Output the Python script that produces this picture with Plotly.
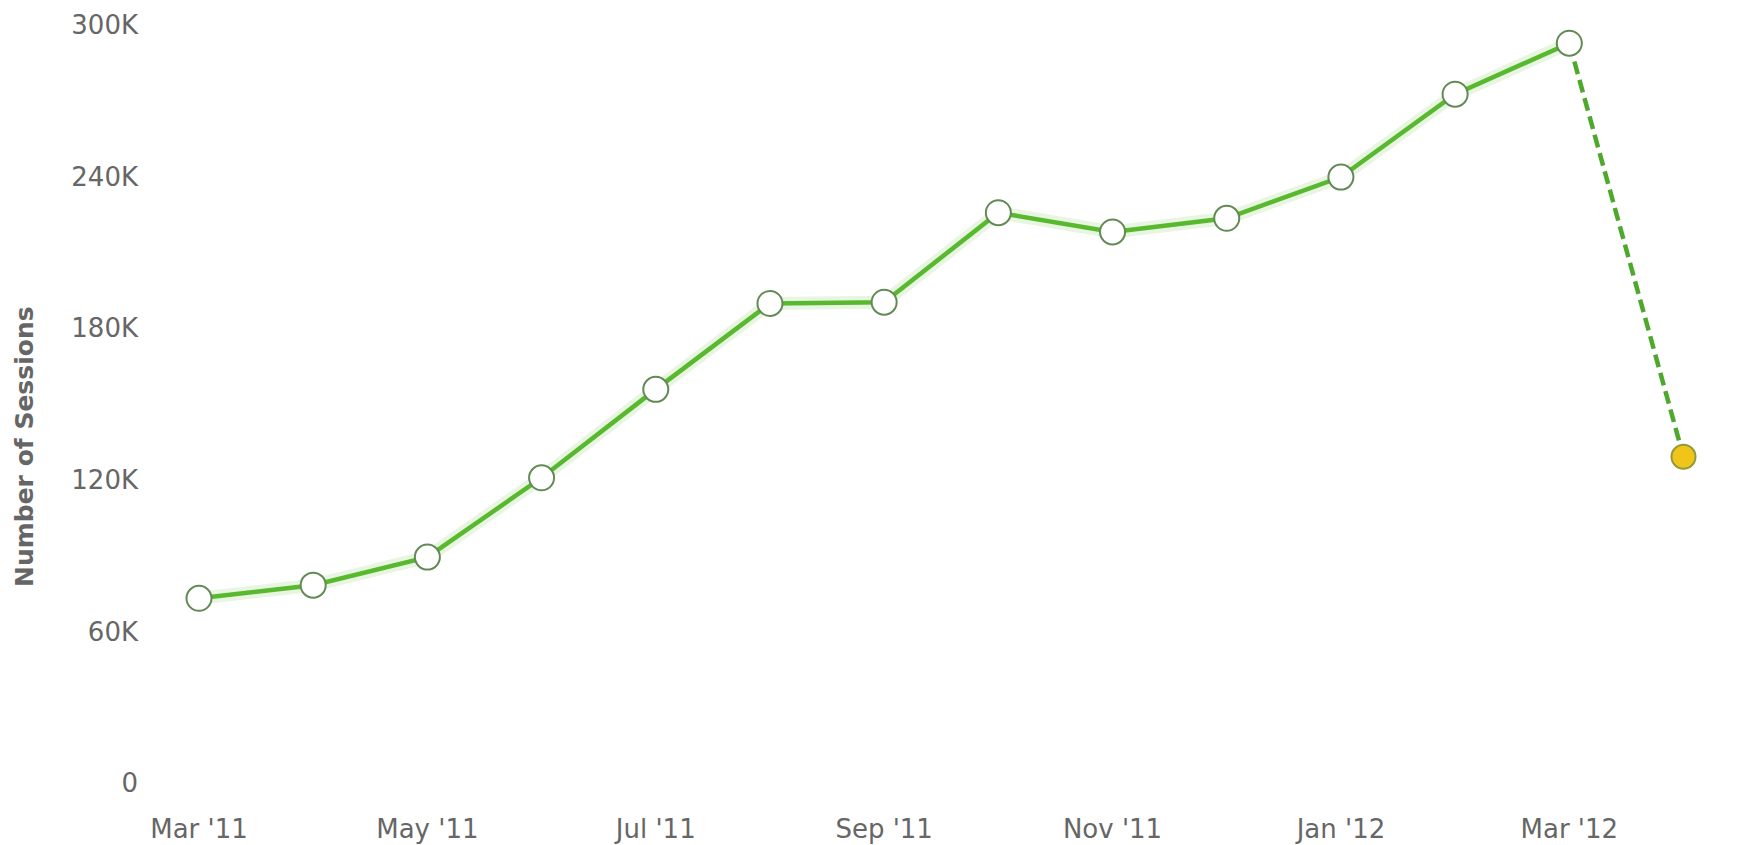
import plotly.graph_objects as go

months = ["Mar '11", "Apr '11", "May '11", "Jun '11", "Jul '11", "Aug '11", "Sep '11",
          "Oct '11", "Nov '11", "Dec '11", "Jan '12", "Feb '12", "Mar '12", "Apr '12"]
sessions = [73100, 78300, 89400, 120800, 155800, 189800, 190300,
            225700, 218100, 223500, 239800, 272600, 292800, 129100]
tick_months = ["Mar '11", "May '11", "Jul '11", "Sep '11", "Nov '11", "Jan '12", "Mar '12"]
y_ticks = [0, 60000, 120000, 180000, 240000, 300000]
y_tick_labels = ["0", "60K", "120K", "180K", "240K", "300K"]

idx = list(range(len(months)))
solid_x, solid_y = idx[:-1], sessions[:-1]
dash_x, dash_y = idx[-2:], sessions[-2:]
tick_idx = [months.index(m) for m in tick_months]

green = "#58b92f"
fig = go.Figure()
# soft shadow under the line
fig.add_trace(go.Scatter(x=solid_x, y=solid_y, mode="lines",
                         line=dict(color="rgba(120,200,90,0.18)", width=13),
                         hoverinfo="skip", showlegend=False))
fig.add_trace(go.Scatter(x=dash_x, y=dash_y, mode="lines",
                         line=dict(color="#4ea82c", width=4.5, dash="13px,6px"),
                         hoverinfo="skip", showlegend=False))
fig.add_trace(go.Scatter(x=solid_x, y=solid_y, mode="lines+markers",
                         line=dict(color=green, width=4.5),
                         marker=dict(size=25, color="white",
                                     line=dict(color="#638a55", width=2)),
                         showlegend=False, cliponaxis=False))
fig.add_trace(go.Scatter(x=[idx[-1]], y=[sessions[-1]], mode="markers",
                         marker=dict(size=24, color="#f0c419",
                                     line=dict(color="#8f9a3a", width=2)),
                         showlegend=False, cliponaxis=False))

# page body has an 8px default margin; compensate so the plot lands where it should
W, H = 1746, 837
L, R, T, B = 137, 20, 17, 62
pw, ph = W - L - R, H - T - B
px_per = (1683.5 - 199) / 13
x0 = -(199 - 8 - L) / px_per
x1 = x0 + pw / px_per

fig.update_layout(
    width=W, height=H,
    margin=dict(l=L, r=R, t=T, b=B),
    paper_bgcolor="white", plot_bgcolor="white",
    font=dict(family="DejaVu Sans", size=26, color="#666666"),
    xaxis=dict(range=[x0, x1], tickmode="array", tickvals=tick_idx, ticktext=tick_months,
               showgrid=False, zeroline=False, showline=False, ticks="",
               ticklabelstandoff=28, automargin=False,
               tickfont=dict(size=26, color="#666666")),
    yaxis=dict(range=[0, 300000], tickmode="array", tickvals=y_ticks, ticktext=y_tick_labels,
               showgrid=False, zeroline=False, showline=False, ticks="",
               ticklabelstandoff=6, automargin=False,
               tickfont=dict(size=26, color="#666666")),
    annotations=[dict(text="<b>Number of Sessions</b>", xref="paper", yref="paper",
                      x=(16 - L) / pw, y=(H - B - 439) / ph, textangle=-90,
                      showarrow=False, xanchor="center", yanchor="middle",
                      font=dict(size=25, color="#666666", family="DejaVu Sans"))],
)

fig.write_html("out.html")
